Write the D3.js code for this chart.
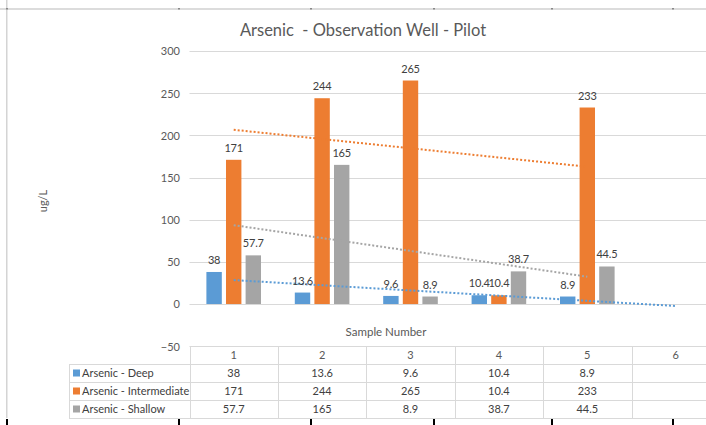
<!DOCTYPE html>
<html><head><meta charset="utf-8">
<script src="https://cdn.jsdelivr.net/npm/d3@7"></script>
<style>
html,body{margin:0;padding:0;background:#fff;overflow:hidden}
text{font-family:Lato,'Open Sans',sans-serif}
</style></head>
<body>
<svg id="c" width="706" height="425"></svg>
<script>
const categories = ['1','2','3','4','5','6'];
const seriesNames = ['Arsenic - Deep','Arsenic - Intermediate','Arsenic - Shallow'];
const deep = [38, 13.6, 9.6, 10.4, 8.9, null];
const intermediate = [171, 244, 265, 10.4, 233, null];
const shallow = [57.7, 165, 8.9, 38.7, 44.5, null];
const colors = ['#5B9BD5', '#ED7D31', '#A5A5A5'];
const yTicks = [-50, 0, 50, 100, 150, 200, 250, 300];
const trendForward = [1, 0, 0];
const rulerMarks = [7, 179, 311, 434, 552, 673];

const series = [deep, intermediate, shallow];
const svg = d3.select('#c');

// frame / ruler
svg.append('rect').attr('x',0).attr('y',8).attr('width',706).attr('height',2).attr('fill','#dcdcdc');
svg.append('rect').attr('x',6).attr('y',0).attr('width',1.5).attr('height',418).attr('fill','#d4d4d4');
rulerMarks.forEach(m=>{
  svg.append('rect').attr('x',m-1).attr('y',8).attr('width',2).attr('height',1.5).attr('fill','#888');
  svg.append('rect').attr('x',m-1).attr('y',419).attr('width',2).attr('height',6).attr('fill','#000');
});

const x = d3.scaleBand().domain(categories).range([189.5, 189.5 + 88.4*6]).padding(0);
const y = d3.scaleLinear().domain([-50, 300]).range([346.2, 51]);
const xs = d3.scaleBand().domain(seriesNames).range([16.9, 88.4-16.9]).paddingInner(0.214).paddingOuter(0);

// gridlines
svg.append('g').selectAll('line').data(yTicks.filter(t=>t>=0)).join('line')
  .attr('x1',189.5).attr('x2',720).attr('y1',d=>Math.round(y(d))+0.5).attr('y2',d=>Math.round(y(d))+0.5)
  .attr('stroke','#d9d9d9').attr('stroke-width',1);

// y axis labels
const yAxis = d3.axisLeft(y).tickValues(yTicks).tickSize(0).tickPadding(0);
const ga = svg.append('g').attr('transform','translate(180,0)').call(yAxis);
ga.select('.domain').remove();
ga.selectAll('text').attr('fill','#595959').style('font-size','11px').attr('dy','0.35em');

// titles
svg.append('text').attr('x',363).attr('y',36).attr('text-anchor','middle').attr('fill','#595959')
  .style('font-size','16.5px').style('white-space','pre').attr('xml:space','preserve')
  .text('Arsenic  - Observation Well - Pilot');
svg.append('text').attr('x',386).attr('y',336).attr('text-anchor','middle').attr('fill','#595959')
  .style('font-size','11.5px').text('Sample Number');
svg.append('text').attr('transform','translate(47,201) rotate(-90)').attr('text-anchor','middle').attr('fill','#595959')
  .style('font-size','11px').text('ug/L');

// bars
series.forEach((vals,si)=>{
  const g = svg.append('g');
  const pts = categories.map((c,i)=>({c, v: vals[i]})).filter(d=>d.v!=null);
  g.selectAll('rect').data(pts).join('rect')
    .attr('x',d=>x(d.c)+xs(seriesNames[si]))
    .attr('width',xs.bandwidth())
    .attr('y',d=>y(d.v))
    .attr('height',d=>y(0)-y(d.v))
    .attr('fill',colors[si]);
});

// trendlines (linear least squares on the series)
series.forEach((vals,si)=>{
  const pts = vals.map((v,i)=>({i:i+1, v})).filter(d=>d.v!=null);
  const n = pts.length;
  const mx = d3.mean(pts,d=>d.i), my = d3.mean(pts,d=>d.v);
  const slope = d3.sum(pts,d=>(d.i-mx)*(d.v-my)) / d3.sum(pts,d=>(d.i-mx)*(d.i-mx));
  const b = my - slope*mx;
  const x0 = 1, x1 = pts[n-1].i + trendForward[si];
  const cx = k => x(categories[0]) + x.bandwidth()*(k-0.5);
  svg.append('line')
    .attr('x1',cx(x0)).attr('y1',y(b+slope*x0))
    .attr('x2',cx(x1)).attr('y2',y(b+slope*x1))
    .attr('stroke',colors[si]).attr('stroke-width',2).attr('stroke-dasharray','2,2');
});

// data labels
series.forEach((vals,si)=>{
  const pts = categories.map((c,i)=>({c, v: vals[i]})).filter(d=>d.v!=null);
  svg.append('g').selectAll('text').data(pts).join('text')
    .attr('x',d=>x(d.c)+xs(seriesNames[si])+xs.bandwidth()/2)
    .attr('y',d=>y(d.v)-8)
    .attr('text-anchor','middle').attr('fill','#404040').style('font-size','11px')
    .style('letter-spacing','-0.2px')
    .text(d=>d.v);
});

// data table
const tTop = 346, rowH = 18, labelLeft = 69, tableRight = 189.5 + 88.4*6;
const lineCol = '#d9d9d9';
const tg = svg.append('g');
tg.append('line').attr('x1',189.5).attr('x2',tableRight).attr('y1',tTop+0.5).attr('y2',tTop+0.5).attr('stroke',lineCol);
for(let r=1;r<=4;r++){
  tg.append('line').attr('x1',labelLeft).attr('x2',tableRight).attr('y1',tTop+r*rowH+0.5).attr('y2',tTop+r*rowH+0.5).attr('stroke',lineCol);
}
tg.append('line').attr('x1',labelLeft+0.5).attr('x2',labelLeft+0.5).attr('y1',tTop+rowH).attr('y2',tTop+4*rowH).attr('stroke',lineCol);
categories.forEach(c=>{
  const xx = Math.round(x(c))+0.5;
  tg.append('line').attr('x1',xx).attr('x2',xx).attr('y1',tTop).attr('y2',tTop+4*rowH).attr('stroke',lineCol);
});
tg.selectAll('text.h').data(categories).join('text').attr('class','h')
  .attr('x',d=>x(d)+x.bandwidth()/2).attr('y',tTop+rowH/2).attr('dy','0.35em')
  .attr('text-anchor','middle').attr('fill','#595959').style('font-size','11px').text(d=>d);
series.forEach((vals,si)=>{
  const cy = tTop + rowH*(si+1) + rowH/2;
  tg.append('rect').attr('x',73).attr('y',cy-3.5).attr('width',7).attr('height',7).attr('fill',colors[si]);
  tg.append('text').attr('x',82).attr('y',cy).attr('dy','0.35em').attr('fill','#404040').style('font-size','11px').text(seriesNames[si]);
  tg.selectAll('text.v'+si).data(categories.map((c,i)=>({c,v:vals[i]})).filter(d=>d.v!=null)).join('text')
    .attr('class','v'+si)
    .attr('x',d=>x(d.c)+x.bandwidth()/2).attr('y',cy).attr('dy','0.35em')
    .attr('text-anchor','middle').attr('fill','#404040').style('font-size','11px').text(d=>d.v);
});
</script>
</body></html>
